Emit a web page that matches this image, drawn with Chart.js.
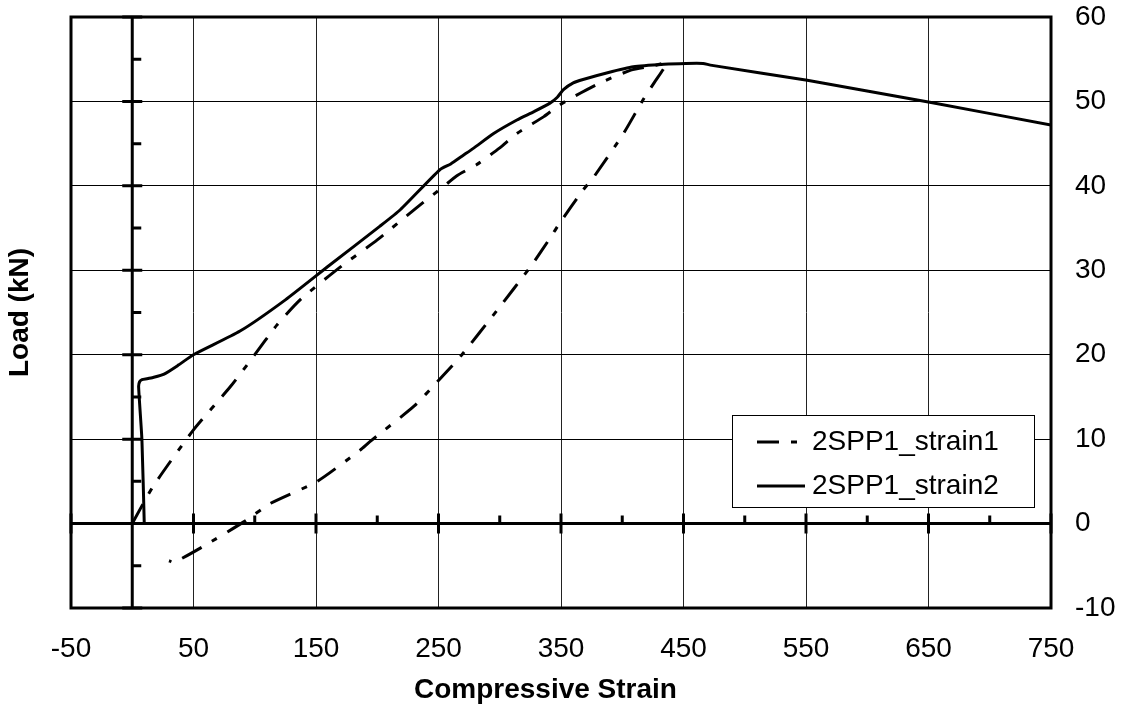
<!DOCTYPE html>
<html>
<head>
    <title>Load vs Compressive Strain</title>
    <script src="https://cdn.jsdelivr.net/npm/chart.js"></script>
    <style>
        body { margin: 0; background: #fff; }
    </style>
</head>
<body>
    <canvas id="strainChart" width="1129" height="718"></canvas>
    <script>
        // tick values
        const xTicks = [-50, 50, 150, 250, 350, 450, 550, 650, 750];
        const yTicks = [-10, 0, 10, 20, 30, 40, 50, 60];

        // 2SPP1_strain1 - loading up to the peak, then unloading
        const strain1X = [0, 17, 50, 80, 99, 118, 137, 170, 200, 232, 254, 265, 281, 300, 314, 336, 349, 366, 382, 407, 425, 436,
                          426, 417, 401, 377, 368, 349, 341, 325, 298, 268, 249, 230, 194, 186, 151, 113, 91, 58, 34, 30];
        const strain1Y = [0, 4.4, 11.1, 16.2, 19.8, 23.5, 26.5, 30.4, 33.6, 37.4, 39.9, 41.2, 42.5, 44.5, 46.2, 48.2, 49.6, 51.0, 52.2, 53.7, 54.2, 54.5,
                          52.2, 50.2, 46.2, 41.1, 39.5, 35.6, 33.8, 30.4, 25.3, 19.8, 16.8, 13.9, 9.7, 8.7, 5.0, 2.4, 0.2, -2.7, -4.6, -4.4];

        // 2SPP1_strain2
        const strain2X = [9.8, 7.9, 5.2, 6, 8, 12, 17, 26, 38, 50, 88, 125, 161, 202, 219, 251, 260, 270, 279, 295, 314, 328, 341, 347, 352, 360, 368, 388, 409, 434, 452, 466, 472, 551, 651, 750];
        const strain2Y = [0, 9.9, 16.2, 16.8, 17.05, 17.15, 17.3, 17.7, 18.8, 20.0, 22.8, 26.5, 30.6, 35.2, 37.2, 41.9, 42.6, 43.6, 44.5, 46.2, 47.8, 48.8, 49.8, 50.5, 51.4, 52.2, 52.6, 53.4, 54.1, 54.4, 54.5, 54.5, 54.3, 52.5, 49.9, 47.2];

        const toPoints = (xs, ys) => xs.map((x, i) => ({ x: x, y: ys[i] }));
        const fontFamily = 'Arial, "Liberation Sans", sans-serif';
        const fontSize = 28;

        // frame, axes through zero with tick marks, and the boxed legend
        const axesAndLegend = {
            id: 'axesAndLegend',
            beforeDatasetsDraw(chart) {
                const { ctx, chartArea: a, scales: { x, y } } = chart;
                const x0 = x.getPixelForValue(0);
                const y0 = y.getPixelForValue(0);
                ctx.save();
                ctx.strokeStyle = '#000';
                ctx.lineWidth = 3;
                ctx.beginPath();
                ctx.moveTo(a.left, y0);
                ctx.lineTo(a.right, y0);
                ctx.moveTo(x0, a.top);
                ctx.lineTo(x0, a.bottom);
                xTicks.forEach(v => {
                    const p = x.getPixelForValue(v);
                    ctx.moveTo(p, y0 - 10);
                    ctx.lineTo(p, y0 + 10);
                });
                for (let i = 0; i < xTicks.length - 1; i++) {
                    const p = x.getPixelForValue((xTicks[i] + xTicks[i + 1]) / 2);
                    ctx.moveTo(p, y0 - 8);
                    ctx.lineTo(p, y0);
                }
                yTicks.forEach(v => {
                    const p = y.getPixelForValue(v);
                    ctx.moveTo(x0 - 10, p);
                    ctx.lineTo(x0 + 10, p);
                });
                for (let i = 0; i < yTicks.length - 1; i++) {
                    const p = y.getPixelForValue((yTicks[i] + yTicks[i + 1]) / 2);
                    ctx.moveTo(x0, p);
                    ctx.lineTo(x0 + 9, p);
                }
                ctx.stroke();
                ctx.strokeRect(a.left, a.top, a.width, a.height);
                ctx.restore();
            },
            afterDatasetsDraw(chart) {
                const { ctx, chartArea: a, scales: { y } } = chart;
                const bx = Math.round(a.right - 319);
                const by = Math.round(y.getPixelForValue(0) - 109);
                ctx.save();
                ctx.fillStyle = '#fff';
                ctx.fillRect(bx, by, 302, 92);
                ctx.lineWidth = 1;
                ctx.strokeStyle = '#000';
                ctx.strokeRect(bx + 0.5, by + 0.5, 302, 92);
                chart.data.datasets.forEach((ds, i) => {
                    const cy = by + 27 + i * 44;
                    ctx.setLineDash(ds.borderDash || []);
                    ctx.lineWidth = ds.borderWidth;
                    ctx.strokeStyle = ds.borderColor;
                    ctx.beginPath();
                    ctx.moveTo(bx + 25, cy);
                    ctx.lineTo(bx + 73, cy);
                    ctx.stroke();
                    ctx.setLineDash([]);
                    ctx.fillStyle = '#000';
                    ctx.font = fontSize + 'px ' + fontFamily;
                    ctx.textBaseline = 'middle';
                    ctx.fillText(ds.label, bx + 80, cy);
                });
                ctx.restore();
            }
        };

        const ctx = document.getElementById('strainChart').getContext('2d');
        new Chart(ctx, {
            type: 'line',
            data: {
                datasets: [{
                    label: '2SPP1_strain1',
                    data: toPoints(strain1X, strain1Y),
                    borderColor: '#000',
                    borderWidth: 3,
                    borderDash: [22, 12, 6, 12],
                    pointRadius: 0,
                    tension: 0.2,
                    fill: false
                }, {
                    label: '2SPP1_strain2',
                    data: toPoints(strain2X, strain2Y),
                    borderColor: '#000',
                    borderWidth: 3,
                    pointRadius: 0,
                    tension: 0.2,
                    fill: false
                }]
            },
            options: {
                responsive: false,
                animation: false,
                layout: { padding: { top: 17 } },
                plugins: {
                    legend: { display: false },
                    tooltip: { enabled: false }
                },
                scales: {
                    x: {
                        type: 'linear',
                        position: 'bottom',
                        min: -50,
                        max: 750,
                        afterBuildTicks: s => { s.ticks = xTicks.map(v => ({ value: v })); },
                        afterFit: s => { s.height = 110; },
                        grid: { color: '#222', lineWidth: 1, drawTicks: true, tickLength: 24, tickColor: 'rgba(0,0,0,0)' },
                        border: { display: false },
                        ticks: { color: '#000', padding: 0, font: { family: fontFamily, size: fontSize } },
                        title: {
                            display: true,
                            text: 'Compressive Strain    ',
                            color: '#000',
                            font: { family: fontFamily, size: fontSize, weight: 'bold' },
                            padding: { top: 0, bottom: 11 }
                        }
                    },
                    y: {
                        position: 'right',
                        min: -10,
                        max: 60,
                        afterBuildTicks: s => { s.ticks = yTicks.map(v => ({ value: v })); },
                        afterFit: s => { s.width = 78; },
                        grid: { color: '#000', lineWidth: 1, drawTicks: true, tickLength: 24, tickColor: 'rgba(0,0,0,0)' },
                        border: { display: false },
                        ticks: { color: '#000', padding: 0, font: { family: fontFamily, size: fontSize } }
                    },
                    yLeft: {
                        position: 'left',
                        min: -10,
                        max: 60,
                        afterFit: s => { s.width = 71; },
                        grid: { display: false },
                        border: { display: false },
                        ticks: { display: false },
                        title: {
                            display: true,
                            text: 'Load (kN)',
                            color: '#000',
                            font: { family: fontFamily, size: fontSize, weight: 'bold' },
                            padding: { top: 3, bottom: 0 }
                        }
                    }
                }
            },
            plugins: [axesAndLegend]
        });
    </script>
</body>
</html>
